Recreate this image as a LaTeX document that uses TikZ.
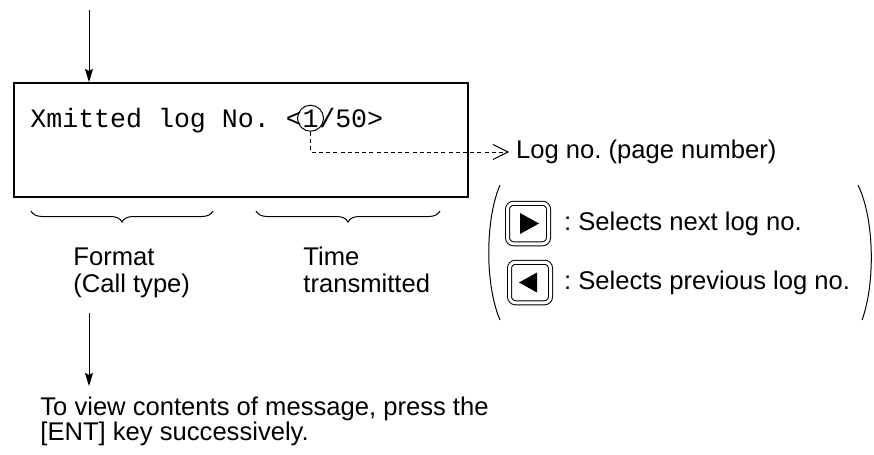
\documentclass[tikz,border=0pt]{standalone}
\usepackage{fontspec}
\setmainfont{Liberation Sans}
\setmonofont{Liberation Mono}
\usetikzlibrary{arrows.meta, positioning, calc, decorations.pathreplacing}
\frenchspacing

\begin{document}
\begin{tikzpicture}[
        x=0.5pt, y=-0.5pt,
        screen/.style={rectangle, draw, line width=1pt, minimum width=227pt, minimum height=57pt},
        mono/.style={inner sep=0pt, font=\fontsize{13.3}{16}\ttfamily},
        label/.style={inner sep=0pt, align=left, font=\fontsize{12.8}{13.5}\selectfont},
        txt/.style={font=\fontsize{12.8}{13.5}\selectfont},
        arrow/.style={-{Stealth[length=6.5pt, width=4pt, inset=1pt]}, line width=0.5pt},
        dasharrow/.style={-{Straight Barb[length=7.5pt, width=7.5pt, line width=0.5pt]}, dash pattern=on 2pt off 1.6pt, line width=0.5pt},
        keybtn/.style={rectangle, draw, double, double distance=1.5pt, line width=0.5pt, rounded corners=3pt, minimum width=20.5pt, minimum height=20.25pt},
        brace/.style={decorate, decoration={brace, mirror, amplitude=5.5pt}, line width=0.5pt},
        paren/.style={line width=0.5pt}
    ]
    \useasboundingbox (0,0) rectangle (874,455);

    % Display screen
    \node[screen] (screen) at (241,140) {};
    \node[mono, anchor=base west] (xmit) at (30,127) {Xmitted log No. <};
    \node[mono, anchor=base west] (one) at (xmit.base east) {1};
    \node[mono, anchor=base west] (total) at (one.base east) {/50>};
    \node[circle, draw, line width=0.5pt, minimum size=13pt, inner sep=0pt] (ring) at (one.center) {};

    % Incoming arrow
    \coordinate (feed) at (89,10);
    \draw[arrow] (feed) -- (feed |- screen.north);

    % Log number callout
    \node[txt, anchor=west] (logno) at (509,152) {Log no. (page number)};
    \draw[dasharrow] (ring.south) |- (logno.west);

    % Braces and field labels
    \coordinate (fmtL) at (31,211);
    \coordinate (fmtR) at (213,211);
    \coordinate (timeL) at (256,211);
    \coordinate (timeR) at (440,211);
    \draw[brace] (fmtL) -- (fmtR);
    \draw[brace] (timeL) -- (timeR);
    \node[label, anchor=north west] (fmt) at (73,247) {Format\\(Call type)};
    \node[label, anchor=north west] (time) at (303,247) {Time\\transmitted};

    % Keys
    \node[keybtn] (next) at (528,223.5) {};
    \fill ([shift={(-8,-10.5)}]next.center) -- ([shift={(11,0)}]next.center) -- ([shift={(-8,10.5)}]next.center) -- cycle;
    \node[txt, right=4pt of next] (nexttxt) {: Selects next log no.};
    \node[keybtn] (prev) at (530,282.5) {};
    \fill ([shift={(7,-10)}]prev.center) -- ([shift={(-11,0)}]prev.center) -- ([shift={(7,10)}]prev.center) -- cycle;
    \node[txt, right=3pt of prev] (prevtxt) {: Selects previous log no.};

    % Parentheses round the keys
    \draw[paren] (500,185) .. controls (485,220) and (485,285) .. (500,320);
    \draw[paren] (858,185) .. controls (875,220) and (875,285) .. (862,320);

    % Outgoing arrow and note
    \coordinate (outtop) at (89,313);
    \coordinate (outbot) at (89,386);
    \draw[arrow] (outtop) -- (outbot);
    \node[label, font=\fontsize{12.8}{12.5}\selectfont, anchor=north west] (msg) at (40,397) {To view contents of message, press the\\{[ENT]} key successively.};

\end{tikzpicture}
\end{document}
